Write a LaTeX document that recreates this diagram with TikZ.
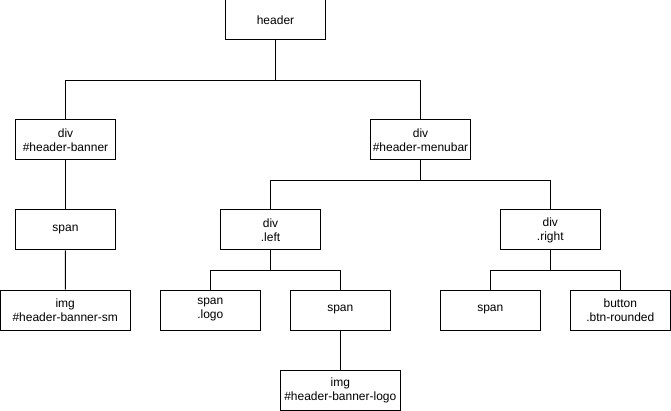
\documentclass[tikz,border=0pt]{standalone}
\usepackage{fontspec}
\setmainfont{Liberation Sans}

\begin{document}
\begin{tikzpicture}[x=1pt,y=-1pt]
	\tikzset{tag/.style={draw,line width=1pt,align=center,inner sep=0pt,minimum width=100pt,minimum height=40pt,font=\fontsize{12}{14}\selectfont}}
	\tikzset{wide tag/.style={tag,minimum width=#1}}
	\tikzset{bus/.style={line width=1pt}}

	\useasboundingbox (0,0) rectangle (671,411);

	\node[tag] (header) at (275.5,20) {header};
	\node[tag] (banner) at (65.5,140) {div\\\#header-banner};
	\node[tag] (menubar) at (420.5,140) {div\\\#header-menubar};
	\node[tag] (bannerspan) at (65.5,230) {span};
	\node[tag] (left) at (270.5,230) {div\\.left};
	\node[tag] (right) at (550.3,230) {div\\.right};
	\node[wide tag=130pt] (bannersm) at (65.2,310) {img\\\#header-banner-sm};
	\node[tag] (logo) at (210.3,310) {span\\.logo};
	\node[tag] (logospan) at (340.3,310) {span};
	\node[tag] (rightspan) at (490.3,310) {span};
	\node[tag] (button) at (620.3,310) {button\\.btn-rounded};
	\node[wide tag=120pt] (bannerlogo) at (340.3,390) {img\\\#header-banner-logo};

	\draw[bus] (header.south) -- ++(0,40) -| (banner.north);
	\draw[bus] (header.south) -- ++(0,40) -| (menubar.north);
	\draw[bus] (banner) -- (bannerspan);
	\draw[bus] (bannerspan) -- (bannersm);
	\draw[bus] (menubar.south) -- ++(0,20) -| (left.north);
	\draw[bus] (menubar.south) -- ++(0,20) -| (right.north);
	\draw[bus] (left.south) -- ++(0,20) -| (logo.north);
	\draw[bus] (left.south) -- ++(0,20) -| (logospan.north);
	\draw[bus] (right.south) -- ++(0,20) -| (rightspan.north);
	\draw[bus] (right.south) -- ++(0,20) -| (button.north);
	\draw[bus] (logospan) -- (bannerlogo);

\end{tikzpicture}
\end{document}
